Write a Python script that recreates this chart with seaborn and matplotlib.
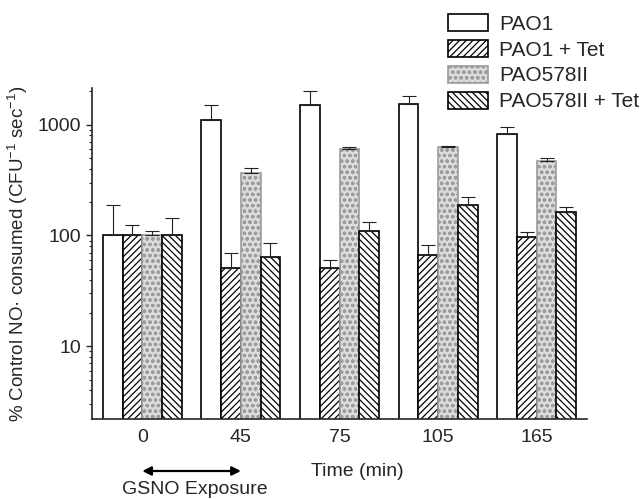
import numpy as np
import pandas as pd
import seaborn as sns
import matplotlib.pyplot as plt
from matplotlib.ticker import FuncFormatter, NullFormatter

# Valores (escala log)
times = ["0", "45", "75", "105", "165"]
strains = ["PAO1", "PAO1 + Tet", "PAO578II", "PAO578II + Tet"]

pao1 = [100, 1110, 1490, 1545, 818]
pao1_top = [187, 1514, 1995, 1824, 960]
pao1_tet = [100, 50.5, 51, 67, 97]
pao1_tet_top = [124, 70, 60, 82, 107]
pao578 = [100, 367, 608, 630, 474]
pao578_top = [109, 407, 630, 640, 497]
pao578_tet = [100, 64, 109, 189, 163]
pao578_tet_top = [143, 85, 133, 221, 182]

series = [pao1, pao1_tet, pao578, pao578_tet]
tops = [pao1_top, pao1_tet_top, pao578_top, pao578_tet_top]

df = pd.DataFrame({
    "time": times * 4,
    "strain": np.repeat(strains, len(times)),
    "value": pao1 + pao1_tet + pao578 + pao578_tet,
})

sns.set_style("ticks")
plt.rcParams["font.family"] = ["Liberation Sans", "DejaVu Sans"]
plt.rcParams["mathtext.fontset"] = "custom"
plt.rcParams["mathtext.rm"] = "Liberation Sans"
plt.rcParams["mathtext.it"] = "Liberation Sans:italic"
plt.rcParams["hatch.linewidth"] = 0.9

fig, ax = plt.subplots(figsize=(6.43, 4.99), dpi=100)
fig.subplots_adjust(left=0.143, right=0.913, bottom=0.160, top=0.824)

sns.barplot(data=df, x="time", y="value", hue="strain", order=times,
            hue_order=strains, palette=["white"] * 4, errorbar=None,
            width=0.8, edgecolor="black", linewidth=1.2,
            legend=False, ax=ax)
bars = list(ax.containers)
ax.set_yscale("log")

# Padroes de preenchimento
hatches = [None, "/////", "ooo", "\\\\\\\\\\"]
for cont, h in zip(bars, hatches):
    for p in cont:
        if h == "ooo":
            p.set_facecolor("#dcdcdc")
            p.set_edgecolor("#9c9c9c")
        p.set_hatch(h)

# Barras de erro (apenas superiores)
for cont, vals, up in zip(bars, series, tops):
    xs = [p.get_x() + p.get_width() / 2 for p in cont]
    vals = np.array(vals)
    err = np.array(up) - vals
    ax.errorbar(xs, vals, yerr=[np.zeros_like(err), err], fmt="none",
                ecolor="#222222", elinewidth=0.8, capsize=5, capthick=0.8)

ax.set_ylim(2.2, 2150)
ax.set_xlim(-0.51, 4.51)
ax.set_yticks([10, 100, 1000])
ax.yaxis.set_major_formatter(FuncFormatter(lambda v, _: f"{v:g}"))
ax.yaxis.set_minor_formatter(NullFormatter())
ax.tick_params(axis="x", length=0, labelsize=14, pad=7)
ax.tick_params(axis="y", which="major", length=4, width=1, labelsize=14, pad=4)
ax.tick_params(axis="y", which="minor", length=2.5, width=0.8)
sns.despine(ax=ax)
for s in ["left", "bottom"]:
    ax.spines[s].set_linewidth(1.2)

ax.set_xlabel("")
ax.set_ylabel("% Control NO\u00b7 consumed (CFU$^{-1}$ sec$^{-1}$)", fontsize=13.5)
ax.yaxis.set_label_coords(-0.125, 0.5)

fig.text(357 / 643, 1 - 472 / 499, "Time (min)", ha="center", va="center", fontsize=14)

ax.annotate("", xy=(1, 28), xytext=(0, 28), xycoords=("data", "figure pixels"),
            textcoords=("data", "figure pixels"),
            arrowprops=dict(arrowstyle="<|-|>", color="black", lw=1.6,
                            mutation_scale=13, shrinkA=0, shrinkB=0))
fig.text(195 / 643, 1 - 490 / 499, "GSNO Exposure", ha="center", va="center", fontsize=14)

handles = [cont.patches[0] for cont in bars]
ax.legend(handles, strains, loc="upper left", bbox_to_anchor=(448 / 643, 1 - 14 / 499),
          bbox_transform=fig.transFigure, frameon=False, fontsize=15,
          handlelength=1.9, handleheight=0.87, labelspacing=0.3,
          handletextpad=0.55, borderpad=0, borderaxespad=0)

plt.savefig("out.png", dpi=100)
